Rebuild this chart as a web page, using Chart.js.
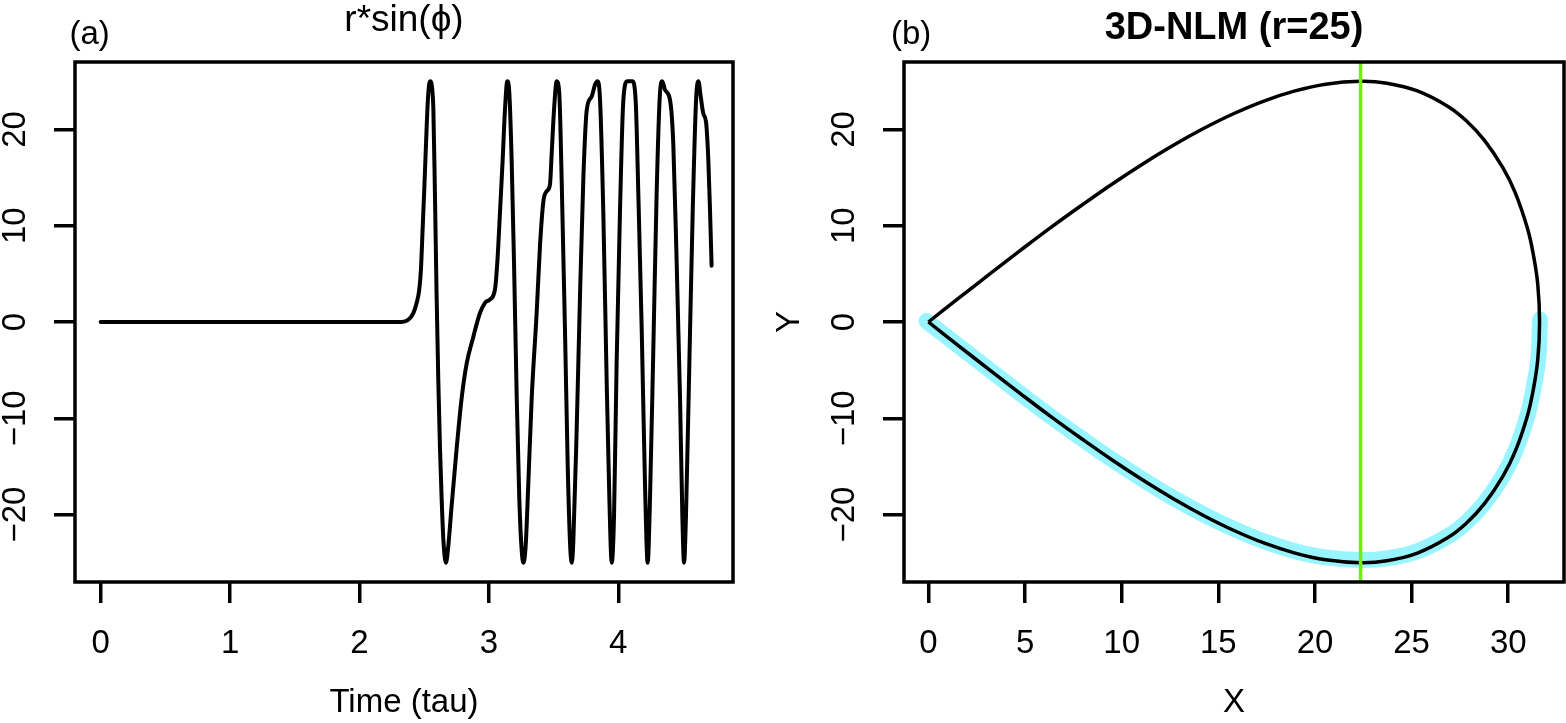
<!DOCTYPE html>
<html>
<head>
<meta charset="utf-8">
<script src="https://cdn.jsdelivr.net/npm/chart.js@4.4.1/dist/chart.umd.min.js"></script>
<style>
html, body { margin: 0; padding: 0; background: #ffffff; }
body { width: 1566px; height: 723px; position: relative; overflow: hidden; }
.panel { position: absolute; top: 0; height: 723px; }
#pa { left: 0; width: 783px; }
#pb { left: 740px; width: 826px; }
</style>
</head>
<body>
<div class="panel" id="pa"><canvas id="ca"></canvas></div>
<div class="panel" id="pb"><canvas id="cb"></canvas></div>
<script>
// ---------- Panel (a): r*sin(phi) vs time ----------
const timeTau = [0, 1.0, 2.0, 2.326, 2.377, 2.416, 2.442, 2.462, 2.475, 2.488, 2.501, 2.514, 2.527, 2.540, 2.550, 2.560, 2.571, 2.583, 2.596, 2.609, 2.622, 2.635, 2.648, 2.668, 2.686, 2.712, 2.751, 2.790, 2.828, 2.880, 2.931, 2.970, 3.008, 3.047, 3.065, 3.086, 3.106, 3.124, 3.142, 3.158, 3.176, 3.194, 3.215, 3.235, 3.253, 3.266, 3.284, 3.305, 3.331, 3.369, 3.395, 3.421, 3.446, 3.472, 3.485, 3.503, 3.524, 3.544, 3.562, 3.588, 3.609, 3.627, 3.640, 3.652, 3.678, 3.704, 3.730, 3.756, 3.794, 3.820, 3.838, 3.859, 3.884, 3.910, 3.931, 3.949, 3.967, 3.987, 4.013, 4.039, 4.070, 4.108, 4.134, 4.155, 4.181, 4.206, 4.227, 4.245, 4.271, 4.296, 4.322, 4.340, 4.361, 4.400, 4.425, 4.451, 4.477, 4.495, 4.508, 4.523, 4.549, 4.575, 4.601, 4.619, 4.637, 4.657, 4.678, 4.696, 4.709, 4.721];
const rSinPhi = [0, 0, 0, 0, 0.23, 0.93, 1.99, 3.39, 5.50, 9.71, 13.92, 18.49, 22.70, 24.80, 25.0, 24.45, 22.0, 13.22, 2.69, -6.09, -13.1, -18.4, -22.58, -25.0, -23.28, -19.07, -13.1, -7.84, -4.33, -1.52, 0.93, 1.99, 2.34, 3.39, 6.2, 11.46, 16.73, 21.99, 25.0, 23.75, 16.73, 6.2, -7.84, -18.37, -23.64, -25.0, -23.28, -16.62, -7.84, 0.93, 7.95, 12.52, 13.57, 14.27, 17.43, 21.99, 25.0, 23.75, 14.97, -0.82, -14.86, -22.93, -25.0, -22.93, -11.35, 2.69, 14.97, 21.99, 23.4, 24.63, 25.0, 23.05, 11.46, -6.09, -18.37, -25.0, -20.13, -4.33, 11.46, 23.05, 25.0, 25.0, 23.05, 13.22, -0.82, -16.62, -25.0, -18.37, -2.58, 13.22, 23.75, 25.0, 24.1, 23.05, 18.49, 6.2, -7.84, -20.13, -25.0, -20.13, -4.33, 11.46, 23.05, 25.0, 23.4, 21.64, 20.77, 16.73, 11.46, 5.85];
const timeTicks = [0, 1, 2, 3, 4];
const valueTicks = [-20, -10, 0, 10, 20];

// ---------- Panel (b): 3D-NLM orbit (X vs Y) ----------
const loopX = [0, 1.58, 3.16, 4.74, 6.32, 7.91, 9.49, 11.07, 12.65, 14.23, 15.81, 17.39, 18.97, 20.55, 22.36, 23.72, 25.30, 26.88, 27.83, 28.77, 29.72, 30.36, 30.99, 31.30, 31.53, 31.62, 31.53, 31.30, 30.99, 30.36, 29.72, 28.77, 27.83, 26.88, 25.30, 23.72, 22.36, 20.55, 18.97, 17.39, 15.81, 14.23, 12.65, 11.07, 9.49, 7.91, 6.32, 4.74, 3.16, 1.58, 0];
const loopY = [0, 2.50, 4.97, 7.41, 9.80, 12.10, 14.31, 16.39, 18.33, 20.09, 21.65, 22.97, 24.00, 24.70, 25.00, 24.80, 24.00, 22.39, 20.90, 18.86, 16.03, 13.44, 9.75, 6.98, 3.86, 0, -3.86, -6.98, -9.75, -13.44, -16.03, -18.86, -20.90, -22.39, -24.00, -24.80, -25.00, -24.70, -24.00, -22.97, -21.65, -20.09, -18.33, -16.39, -14.31, -12.10, -9.80, -7.41, -4.97, -2.50, 0];
const cyanX = [-0.1, 1.58, 3.16, 4.74, 6.32, 7.91, 9.49, 11.07, 12.65, 14.23, 15.81, 17.39, 18.97, 20.55, 22.36, 23.72, 25.30, 26.88, 27.83, 28.77, 29.72, 30.36, 30.99, 31.30, 31.55, 31.64];
const cyanY = [0.1, -2.50, -4.97, -7.41, -9.80, -12.08, -14.27, -16.33, -18.25, -19.98, -21.5, -22.8, -23.8, -24.45, -24.72, -24.55, -23.8, -22.25, -20.8, -18.8, -16.0, -13.42, -9.74, -6.97, -3.88, 0.25];
const markerX = 22.36;
const xTicksB = [0, 5, 10, 15, 20, 25, 30];

// ---------- styling ----------
const FAMILY = "'Liberation Sans', Arial, Helvetica, sans-serif";
Chart.defaults.font.family = FAMILY;
Chart.defaults.color = '#000';

const toPts = (xs, ys) => xs.map((x, i) => ({ x: x, y: ys[i] }));
const fixTicks = (arr) => (s) => { s.ticks = arr.map(v => ({ value: v })); };
const minusFmt = (v) => String(v).replace('-', '\u2212');

const boxPlugin = {
  id: 'plotBox',
  afterDraw(chart) {
    const { ctx, chartArea: a } = chart;
    ctx.save();
    ctx.lineWidth = 3.5;
    ctx.strokeStyle = '#000';
    ctx.strokeRect(a.left, a.top, a.right - a.left, a.bottom - a.top);
    ctx.restore();
  }
};
const cornerLabel = {
  id: 'cornerLabel',
  afterDraw(chart, args, opts) {
    const ctx = chart.ctx;
    ctx.save();
    ctx.font = 'normal ' + opts.size + 'px ' + FAMILY;
    ctx.fillStyle = '#000';
    ctx.textAlign = 'left';
    ctx.textBaseline = 'alphabetic';
    ctx.fillText(opts.text, opts.x, opts.y);
    ctx.restore();
  }
};

function xAxis(min, max, ticksArr, title) {
  return {
    type: 'linear', min: min, max: max,
    afterBuildTicks: fixTicks(ticksArr),
    afterFit: (s) => { s.height = 141; },
    border: { display: false },
    grid: { display: true, drawOnChartArea: false, drawTicks: true, tickLength: 21, color: '#000', lineWidth: 3.5 },
    ticks: { font: { size: 33 }, color: '#000', padding: 20.9, minRotation: 0, maxRotation: 0, autoSkip: false, callback: minusFmt },
    title: { display: true, text: title, font: { size: 33 }, color: '#000', padding: { top: 0, bottom: 0 } }
  };
}
function yAxis(width, title) {
  const ax = {
    type: 'linear', min: -27, max: 27,
    afterBuildTicks: fixTicks(valueTicks),
    afterFit: (s) => { s.width = width; },
    border: { display: false },
    grid: { display: true, drawOnChartArea: false, drawTicks: true, tickLength: 21, color: '#000', lineWidth: 3.5 },
    ticks: { font: { size: 33 }, color: '#000', padding: 10.5, minRotation: 90, maxRotation: 90, crossAlign: 'center', autoSkip: false, callback: minusFmt },
    title: { display: false }
  };
  if (title) {
    ax.title = { display: true, text: title, font: { size: 33 }, color: '#000', padding: { top: 30.2, bottom: 0 } };
  }
  return ax;
}

new Chart(document.getElementById('ca'), {
  type: 'scatter',
  data: {
    datasets: [{
      data: toPts(timeTau, rSinPhi),
      showLine: true, borderColor: '#000', borderWidth: 4,
      pointRadius: 0, cubicInterpolationMode: 'monotone',
      borderJoinStyle: 'round', borderCapStyle: 'round'
    }]
  },
  options: {
    responsive: true, maintainAspectRatio: false, animation: false, devicePixelRatio: 1,
    layout: { padding: { top: 0, left: 0, bottom: 0, right: 50 } },
    scales: { x: xAxis(-0.1986, 4.8864, timeTicks, 'Time (tau)'), y: yAxis(75, null) },
    plugins: {
      legend: { display: false }, tooltip: { enabled: false },
      title: { display: true, text: 'r*sin(\u03d5)', fullSize: false, color: '#000',
               font: { size: 37, weight: 'normal', lineHeight: 1 }, padding: { top: 2.2, bottom: 22.8 } },
      cornerLabel: { text: '(a)', x: 69.5, y: 44, size: 33 }
    }
  },
  plugins: [boxPlugin, cornerLabel]
});

new Chart(document.getElementById('cb'), {
  type: 'scatter',
  data: {
    datasets: [
      { data: [{ x: markerX, y: -27 }, { x: markerX, y: 27 }], showLine: true, borderColor: '#76EE00', borderWidth: 3.5, pointRadius: 0 },
      { data: toPts(loopX, loopY), showLine: true, borderColor: '#000', borderWidth: 3.5, pointRadius: 0, tension: 0.4, borderJoinStyle: 'round' },
      { data: toPts(cyanX, cyanY), showLine: true, borderColor: '#98F5FF', borderWidth: 16, pointRadius: 0, tension: 0.4, borderCapStyle: 'round', borderJoinStyle: 'round' }
    ]
  },
  options: {
    responsive: true, maintainAspectRatio: false, animation: false, devicePixelRatio: 1,
    layout: { padding: { top: 0, left: 0, bottom: 0, right: 2 } },
    scales: { x: xAxis(-1.265, 32.885, xTicksB, 'X'), y: yAxis(164, 'Y') },
    plugins: {
      legend: { display: false }, tooltip: { enabled: false },
      title: { display: true, text: '3D-NLM (r=25)', fullSize: false, color: '#000',
               font: { size: 38, weight: 'bold', lineHeight: 1 }, padding: { top: 9.8, bottom: 14.2 } },
      cornerLabel: { text: '(b)', x: 151, y: 44, size: 33 }
    }
  },
  plugins: [boxPlugin, cornerLabel]
});
</script>
</body>
</html>
